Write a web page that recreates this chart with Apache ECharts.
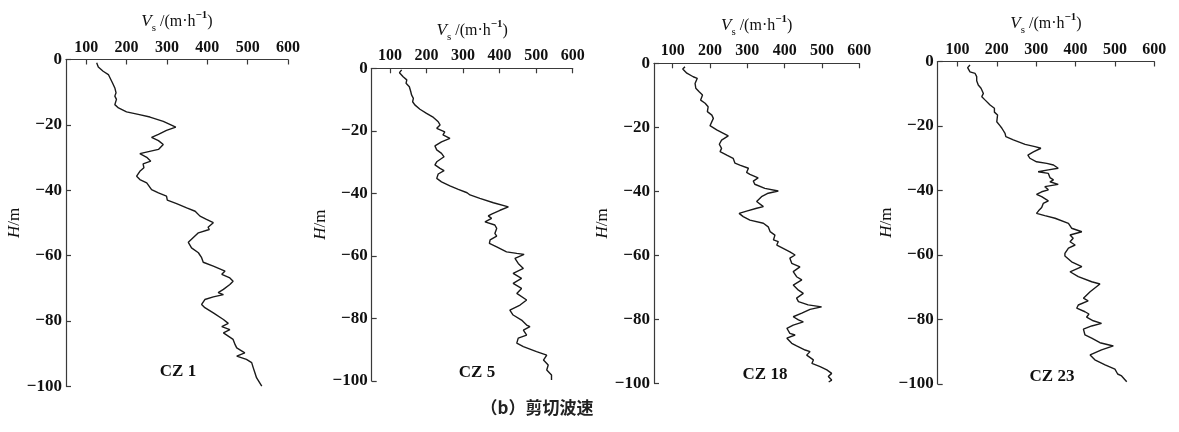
<!DOCTYPE html>
<html>
<head>
<meta charset="utf-8">
<script src="https://cdn.jsdelivr.net/npm/echarts@6/dist/echarts.min.js"></script>
<style>
  html, body { margin: 0; padding: 0; background: #fff; }
  #chart { width: 1179px; height: 432px; }
</style>
</head>
<body>
<div id="chart"></div>
<script>
// Shear-wave velocity profiles, depth H (m) vs Vs, four boreholes.
const stations = ['CZ 1', 'CZ 5', 'CZ 18', 'CZ 23'];
const vsTicks = [100, 200, 300, 400, 500, 600];
const caption = '（b）剪切波速';

// [depth H, Vs] pairs
const cz1 = [[-1.0,126],[-2.3,130],[-3.6,142],[-4.6,155],[-6.1,161],[-7.1,165],[-8.7,171],[-10.2,174],[-11.2,171],[-12.2,175],[-13.8,171],[-14.8,180],[-16.0,200],[-16.8,229],[-17.6,258],[-18.9,291],[-20.7,322],[-21.7,299],[-22.9,279],[-23.8,262],[-24.8,279],[-26.0,291],[-27.5,279],[-28.8,233],[-29.9,250],[-31.1,260],[-31.9,241],[-33.1,243],[-34.2,233],[-35.7,225],[-36.7,233],[-37.7,250],[-39.8,262],[-40.8,279],[-41.8,299],[-43.0,301],[-44.1,324],[-45.4,349],[-46.4,370],[-47.9,382],[-48.9,398],[-49.9,415],[-51.3,402],[-52.0,405],[-53.0,378],[-55.9,353],[-57.6,361],[-59.1,378],[-60.6,386],[-62.0,390],[-63.2,415],[-64.7,444],[-65.7,436],[-66.8,456],[-67.8,464],[-68.8,456],[-70.3,440],[-71.3,427],[-71.9,440],[-72.6,415],[-73.4,394],[-74.9,386],[-75.9,394],[-77.5,415],[-79.5,440],[-80.7,452],[-81.7,436],[-82.6,456],[-83.6,440],[-84.6,452],[-85.6,464],[-87.2,469],[-88.2,473],[-89.7,493],[-90.7,473],[-91.7,497],[-92.7,510],[-94.3,514],[-95.8,518],[-97.3,522],[-98.9,530],[-99.9,535]];

const cz5 = [[-0.5,132],[-1.4,126],[-2.7,136],[-3.7,146],[-4.8,144],[-5.9,153],[-7.5,157],[-8.5,159],[-9.6,164],[-10.7,162],[-11.7,168],[-13.1,182],[-14.4,200],[-15.7,219],[-17.1,232],[-18.1,237],[-19.2,228],[-20.3,250],[-21.3,245],[-22.4,264],[-23.5,241],[-24.8,223],[-26.1,228],[-27.2,241],[-28.3,248],[-29.9,228],[-30.9,223],[-32.0,237],[-32.7,248],[-33.8,232],[-35.2,228],[-36.3,241],[-37.6,264],[-38.7,287],[-39.8,311],[-40.5,319],[-41.6,346],[-43.0,383],[-44.3,424],[-45.4,401],[-46.6,378],[-47.2,369],[-48.0,378],[-49.1,360],[-50.1,387],[-51.2,392],[-52.8,387],[-53.7,392],[-54.9,374],[-56.0,372],[-57.1,392],[-58.7,419],[-59.2,447],[-59.5,467],[-60.8,442],[-62.4,451],[-64.0,465],[-65.6,437],[-67.2,460],[-68.8,437],[-70.4,460],[-72.0,447],[-74.1,474],[-75.7,456],[-77.3,428],[-78.9,437],[-80.5,460],[-82.1,474],[-82.6,483],[-83.7,465],[-85.3,474],[-86.3,451],[-87.9,447],[-89.0,465],[-90.6,501],[-91.7,529],[-93.3,520],[-94.9,533],[-96.5,529],[-98.1,542],[-99.7,542]];

const cz18 = [[-1.1,133],[-1.8,127],[-3.1,138],[-4.2,155],[-4.7,166],[-6.3,160],[-7.8,162],[-8.9,171],[-9.9,180],[-11.5,175],[-12.5,187],[-13.6,195],[-15.1,193],[-16.2,205],[-17.2,209],[-19.5,200],[-20.8,218],[-21.9,236],[-22.7,249],[-24.0,231],[-25.3,225],[-26.6,231],[-27.6,227],[-28.7,245],[-29.7,262],[-31.2,267],[-31.8,280],[-32.8,303],[-34.1,298],[-34.7,307],[-35.8,329],[-36.8,316],[-37.8,320],[-39.1,347],[-39.9,383],[-40.6,356],[-41.7,338],[-43.2,325],[-44.8,343],[-45.3,325],[-46.2,298],[-46.9,278],[-47.9,289],[-49.0,307],[-50.0,343],[-51.1,356],[-52.6,361],[-53.7,374],[-55.2,370],[-55.7,383],[-56.8,379],[-57.8,396],[-58.9,414],[-59.9,428],[-60.9,414],[-62.5,419],[-63.6,441],[-65.1,423],[-66.7,432],[-67.7,446],[-69.3,423],[-70.9,437],[-71.9,450],[-73.4,432],[-74.5,437],[-75.5,463],[-76.1,499],[-76.9,468],[-78.1,446],[-79.2,423],[-80.2,437],[-80.8,450],[-81.8,423],[-82.8,406],[-84.4,414],[-84.9,428],[-85.9,406],[-87.5,419],[-88.3,432],[-89.6,455],[-90.1,468],[-91.2,459],[-92.7,477],[-93.8,473],[-94.8,495],[-95.8,513],[-96.9,526],[-97.9,517],[-99.0,526],[-99.6,518]];

const cz23 = [[-1.1,132],[-1.9,126],[-3.2,132],[-3.7,145],[-4.7,149],[-6.0,149],[-7.3,153],[-8.3,160],[-9.9,166],[-10.9,162],[-11.9,170],[-13.5,183],[-14.5,194],[-15.7,194],[-16.6,202],[-18.7,200],[-19.9,208],[-20.7,213],[-22.3,221],[-23.3,223],[-24.3,242],[-25.7,272],[-26.4,297],[-26.9,312],[-28.0,293],[-29.0,279],[-30.0,284],[-31.1,301],[-31.6,327],[-32.1,344],[-33.1,356],[-33.6,331],[-34.2,305],[-34.7,331],[-36.0,335],[-36.7,344],[-37.3,335],[-38.1,356],[-38.8,322],[-39.8,331],[-40.4,314],[-41.2,301],[-41.9,314],[-43.2,331],[-44.0,318],[-45.3,314],[-46.3,306],[-47.1,301],[-47.8,322],[-48.6,348],[-50.2,382],[-51.7,390],[-52.8,416],[-53.8,386],[-54.8,394],[-55.9,386],[-56.9,399],[-57.9,382],[-59.5,373],[-60.3,373],[-62.1,390],[-63.6,416],[-65.2,386],[-66.7,407],[-68.3,441],[-69.0,462],[-71.4,437],[-73.4,420],[-74.2,432],[-75.5,407],[-76.5,403],[-77.6,424],[-78.3,434],[-79.3,428],[-80.4,445],[-81.2,466],[-82.0,441],[-83.0,420],[-84.8,424],[-85.8,441],[-87.2,462],[-88.2,496],[-89.4,466],[-91.0,437],[-92.5,449],[-94.1,475],[-95.4,500],[-96.9,507],[-97.5,517],[-99.3,530]];

const profiles = [cz1, cz5, cz18, cz23];

// panel frames (px)
const frames = [
  { left: 66,    top: 59.5, width: 222,   height: 327 },
  { left: 371.7, top: 68.3, width: 201,   height: 312.7 },
  { left: 654,   top: 63.3, width: 205.3, height: 320 },
  { left: 937.7, top: 61.5, width: 216.6, height: 322.5 }
];
// station label anchors (px)
const labelPos = [[178, 372], [477, 373], [765, 375], [1052, 377]];

const SERIF = '"Liberation Serif", "Times New Roman", serif';
const AXIS_COLOR = '#3a3a3a';

const chart = echarts.init(document.getElementById('chart'), null, { renderer: 'canvas' });

const grid = [], xAxis = [], yAxis = [], series = [], graphic = [];

profiles.forEach((prof, i) => {
  grid.push(Object.assign({ containLabel: false }, frames[i]));
  xAxis.push({
    type: 'value', gridIndex: i, position: 'top',
    min: 50, max: 600,
    name: '{i|V}{s|s}{t| /(m·h}{p|−1}{t|)}',
    nameLocation: 'middle', nameGap: 26,
    nameTextStyle: {
      fontFamily: SERIF, fontSize: 16, color: '#111',
      rich: {
        i: { fontFamily: SERIF, fontStyle: 'italic', fontSize: 17, color: '#111', lineHeight: 24, verticalAlign: 'middle' },
        s: { fontFamily: SERIF, fontSize: 11, color: '#111', lineHeight: 24, verticalAlign: 'bottom' },
        t: { fontFamily: SERIF, fontSize: 16, color: '#111', lineHeight: 24, verticalAlign: 'middle' },
        p: { fontFamily: SERIF, fontSize: 11, fontWeight: 'bold', color: '#111', lineHeight: 24, verticalAlign: 'top' }
      }
    },
    axisLine: { show: true, onZero: false, lineStyle: { color: AXIS_COLOR, width: 1.2 } },
    axisTick: { show: true, inside: true, length: 5, customValues: vsTicks, lineStyle: { color: AXIS_COLOR, width: 1.2 } },
    axisLabel: { customValues: vsTicks, margin: 4, fontFamily: SERIF, fontSize: 16, fontWeight: 'bold', color: '#111' },
    splitLine: { show: false }
  });
  yAxis.push({
    type: 'value', gridIndex: i,
    min: -100, max: 0, interval: 20,
    name: '{i|H}{t|/m}',
    nameLocation: 'middle', nameGap: 43, nameRotate: 90,
    nameTextStyle: {
      rich: {
        i: { fontFamily: SERIF, fontStyle: 'italic', fontSize: 17, color: '#111' },
        t: { fontFamily: SERIF, fontSize: 17, color: '#111' }
      }
    },
    axisLine: { show: true, onZero: false, lineStyle: { color: AXIS_COLOR, width: 1.2 } },
    axisTick: { show: true, inside: true, length: 5, lineStyle: { color: AXIS_COLOR, width: 1.2 } },
    axisLabel: {
      margin: 4, fontFamily: SERIF, fontSize: 17, fontWeight: 'bold', color: '#111',
      formatter: v => (v === 0 ? '0' : '−' + Math.abs(v))
    },
    splitLine: { show: false }
  });
  series.push({
    type: 'line', name: stations[i],
    xAxisIndex: i, yAxisIndex: i,
    data: prof.map(([h, vs]) => [vs, h]),
    showSymbol: false, smooth: false,
    lineStyle: { color: '#1a1a1a', width: 1.4 },
    emphasis: { disabled: true }
  });
  graphic.push({
    type: 'text', x: labelPos[i][0], y: labelPos[i][1],
    style: { text: stations[i], font: 'bold 17px ' + SERIF, fill: '#111', align: 'center', verticalAlign: 'middle' }
  });
});

graphic.push({
  type: 'text', x: 537, y: 408,
  style: { text: caption, font: 'bold 17px "Noto Sans CJK SC", sans-serif', fill: '#222', align: 'center', verticalAlign: 'middle' }
});

chart.setOption({
  backgroundColor: '#fff',
  animation: false,
  grid, xAxis, yAxis, series, graphic
});
</script>
</body>
</html>
